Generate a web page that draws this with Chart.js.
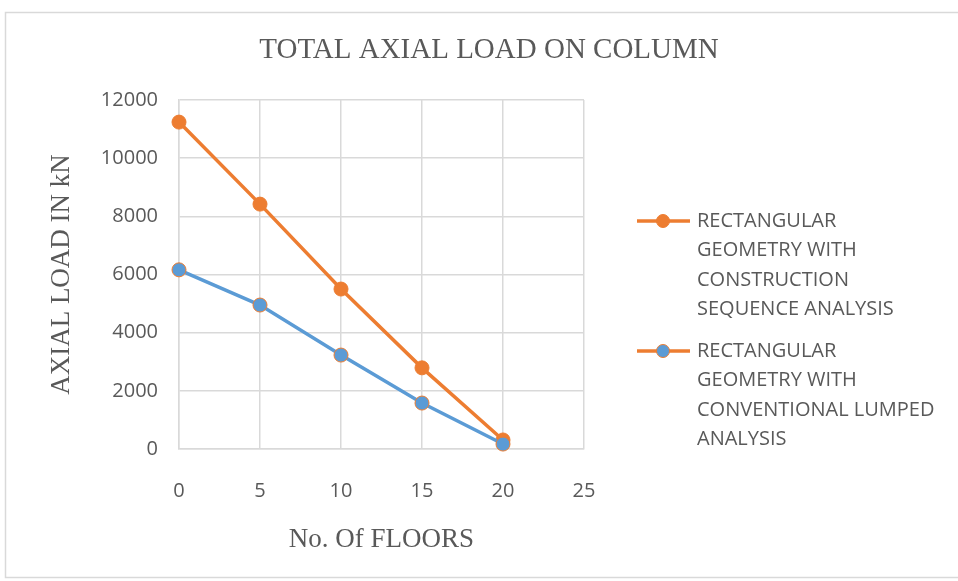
<!DOCTYPE html>
<html>
<head>
<meta charset="utf-8">
<script src="https://cdn.jsdelivr.net/npm/chart.js@4.4.1/dist/chart.umd.min.js"></script>
<style>
  html, body { margin: 0; padding: 0; background: #fff; }
  #wrap { width: 958px; height: 581px; }
</style>
</head>
<body>
<div id="wrap"><canvas id="chart" width="958" height="581"></canvas></div>
<script>
// chart data
const floors = [0, 5, 10, 15, 20];
const sequenceLoad = [11240, 8420, 5500, 2790, 310];
const lumpedLoad = [6160, 4950, 3230, 1580, 170];
const xTicks = [0, 5, 10, 15, 20, 25];
const yTicks = [0, 2000, 4000, 6000, 8000, 10000, 12000];

const seriesNames = [
  ['RECTANGULAR', 'GEOMETRY WITH', 'CONSTRUCTION', 'SEQUENCE ANALYSIS'],
  ['RECTANGULAR', 'GEOMETRY WITH', 'CONVENTIONAL LUMPED', 'ANALYSIS']
];

const ORANGE = '#ED7D31';
const BLUE = '#5B9BD5';
const GREY = '#595959';
const GRID = '#d9d9d9';
const SERIF = '"Liberation Serif", serif';
const SANS = '"Open Sans", sans-serif';

// frame, title and the legend are drawn by hand
const decorPlugin = {
  id: 'decor',
  beforeDraw(chart) {
    const c = chart.ctx;
    c.save();
    c.fillStyle = '#fff';
    c.fillRect(0, 0, chart.width, chart.height);
    c.strokeStyle = GRID;
    c.lineWidth = 1.5;
    c.strokeRect(5.5, 12.5, 980, 565);
    c.restore();
  },
  afterDraw(chart) {
    const c = chart.ctx;
    c.save();
    c.fillStyle = GREY;
    c.font = '29px ' + SERIF;
    c.textAlign = 'center';
    c.textBaseline = 'middle';
    c.fillText('TOTAL AXIAL LOAD ON COLUMN', 489, 50);

    // legend (both swatches use the orange line, as in the original)
    const tops = [221, 351];
    c.font = '20px ' + SANS;
    c.textAlign = 'left';
    chart.data.datasets.forEach((ds, i) => {
      const y = tops[i];
      c.strokeStyle = ORANGE;
      c.lineWidth = 3.5;
      c.beginPath();
      c.moveTo(637, y);
      c.lineTo(690, y);
      c.stroke();
      c.beginPath();
      c.arc(663, y, 6.5, 0, Math.PI * 2);
      c.fillStyle = ds.pointBackgroundColor;
      c.fill();
      c.lineWidth = 1;
      c.strokeStyle = ORANGE;
      c.stroke();
      c.fillStyle = GREY;
      seriesNames[i].forEach((line, k) => {
        c.fillText(line, 697, y + k * 29.5);
      });
    });
    c.restore();
  }
};

new Chart(document.getElementById('chart'), {
  type: 'line',
  data: {
    datasets: [
      {
        label: seriesNames[0].join(' '),
        data: floors.map((f, i) => ({ x: f, y: sequenceLoad[i] })),
        borderColor: ORANGE,
        backgroundColor: ORANGE,
        pointBackgroundColor: ORANGE,
        pointBorderColor: ORANGE,
        borderWidth: 3.5,
        pointRadius: 7,
        pointBorderWidth: 1,
        clip: false,
        order: 1
      },
      {
        label: seriesNames[1].join(' '),
        data: floors.map((f, i) => ({ x: f, y: lumpedLoad[i] })),
        borderColor: BLUE,
        backgroundColor: BLUE,
        pointBackgroundColor: BLUE,
        pointBorderColor: ORANGE,
        borderWidth: 3.5,
        pointRadius: 7,
        pointBorderWidth: 1,
        clip: false,
        order: 0
      }
    ]
  },
  options: {
    responsive: false,
    animation: false,
    layout: { padding: { left: 0, top: 100, right: 374, bottom: 0 } },
    plugins: {
      legend: { display: false },
      title: { display: false },
      tooltip: { enabled: false }
    },
    scales: {
      x: {
        type: 'linear',
        min: 0,
        max: 25,
        afterBuildTicks: (s) => { s.ticks = xTicks.map(v => ({ value: v })); },
        afterFit: (s) => { s.height = 132; },
        grid: { color: GRID, lineWidth: 1.5, drawTicks: false },
        border: { color: GRID, width: 1.5 },
        ticks: {
          color: GREY, padding: 30,
          font: { family: SANS, size: 20 },
          callback: (v) => String(v)
        },
        title: {
          display: true,
          text: 'No. Of FLOORS',
          color: GREY,
          padding: { top: 0, bottom: 25 },
          font: { family: SERIF, size: 27 }
        }
      },
      y: {
        min: 0,
        max: 12000,
        afterBuildTicks: (s) => { s.ticks = yTicks.map(v => ({ value: v })); },
        afterFit: (s) => { s.width = 179; },
        grid: { color: GRID, lineWidth: 1.5, drawTicks: false },
        border: { color: GRID, width: 1.5 },
        ticks: {
          color: GREY, padding: 21,
          font: { family: SANS, size: 20 },
          callback: (v) => String(v)
        },
        title: {
          display: true,
          text: 'AXIAL LOAD IN kN',
          color: GREY,
          padding: { top: 46, bottom: 0 },
          font: { family: SERIF, size: 27 }
        }
      }
    }
  },
  plugins: [decorPlugin]
});
</script>
</body>
</html>
